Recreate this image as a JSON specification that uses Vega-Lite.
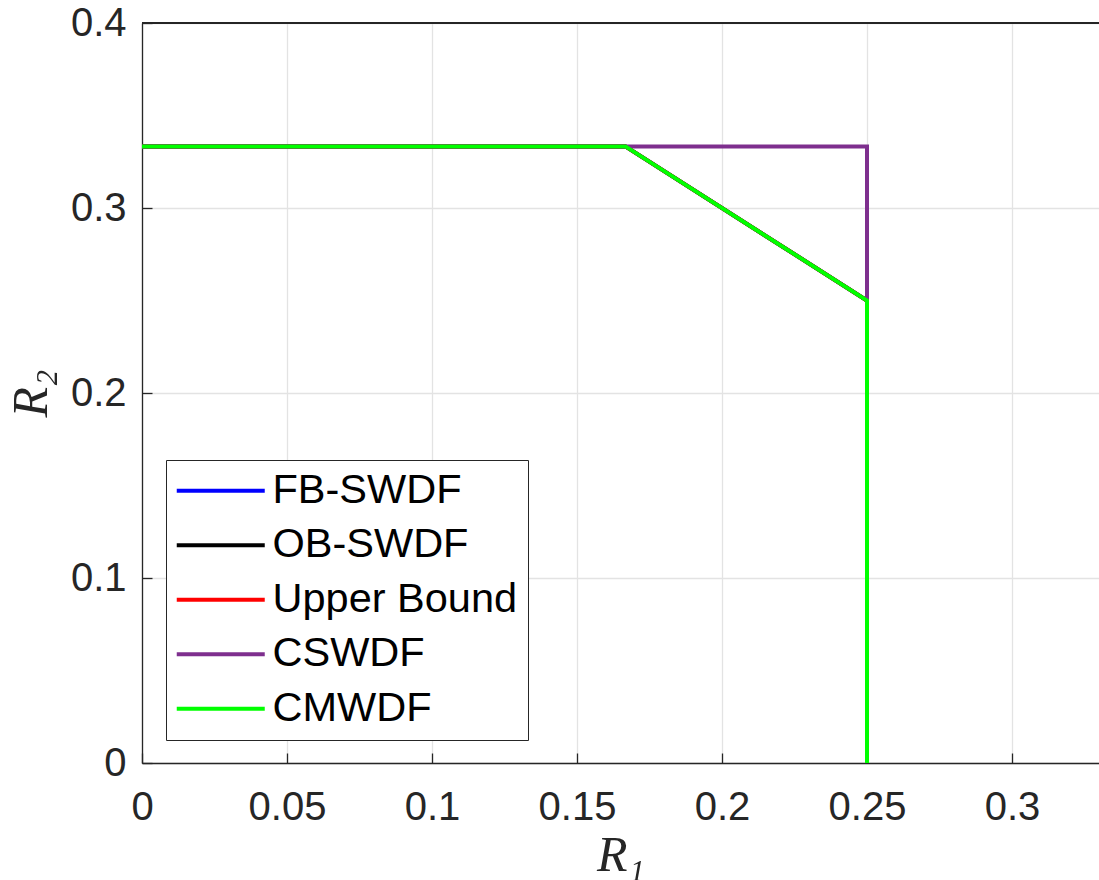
{
  "$schema": "https://vega.github.io/schema/vega-lite/v6.json",
  "autosize": "none",
  "padding": {"left": 142, "top": 23, "right": 0, "bottom": 117},
  "width": 957,
  "height": 740,
  "background": "white",
  "config": {
    "view": {"stroke": null},
    "font": "Liberation Sans"
  },
  "data": {
    "values": [
      {"series": "FB-SWDF", "i": 0, "x": 0, "y": 0.3333},
      {"series": "FB-SWDF", "i": 1, "x": 0.1667, "y": 0.3333},
      {"series": "FB-SWDF", "i": 2, "x": 0.25, "y": 0.25},
      {"series": "FB-SWDF", "i": 3, "x": 0.25, "y": 0},
      {"series": "OB-SWDF", "i": 0, "x": 0, "y": 0.3333},
      {"series": "OB-SWDF", "i": 1, "x": 0.1667, "y": 0.3333},
      {"series": "OB-SWDF", "i": 2, "x": 0.25, "y": 0.25},
      {"series": "OB-SWDF", "i": 3, "x": 0.25, "y": 0},
      {"series": "Upper Bound", "i": 0, "x": 0, "y": 0.3333},
      {"series": "Upper Bound", "i": 1, "x": 0.1667, "y": 0.3333},
      {"series": "Upper Bound", "i": 2, "x": 0.25, "y": 0.25},
      {"series": "Upper Bound", "i": 3, "x": 0.25, "y": 0},
      {"series": "CSWDF", "i": 0, "x": 0, "y": 0.3333},
      {"series": "CSWDF", "i": 1, "x": 0.25, "y": 0.3333},
      {"series": "CSWDF", "i": 2, "x": 0.25, "y": 0},
      {"series": "CMWDF", "i": 0, "x": 0, "y": 0.3333},
      {"series": "CMWDF", "i": 1, "x": 0.1667, "y": 0.3333},
      {"series": "CMWDF", "i": 2, "x": 0.25, "y": 0.25},
      {"series": "CMWDF", "i": 3, "x": 0.25, "y": 0}
    ]
  },
  "encoding": {
    "x": {
      "field": "x", "type": "quantitative",
      "scale": {"domain": [0, 0.33], "nice": false, "zero": false},
      "axis": {
        "title": "R₁",
        "titleFont": "Liberation Serif", "titleFontStyle": "italic", "titleFontWeight": "normal",
        "titleFontSize": 50, "titleColor": "#262626", "titlePadding": 3,
        "values": [0, 0.05, 0.1, 0.15, 0.2, 0.25, 0.3],
        "format": "~g",
        "labelFontSize": 40, "labelColor": "#262626", "labelPadding": 34,
        "labelFlush": false,
        "tickSize": -10, "tickColor": "#262626", "tickWidth": 1.3,
        "domainColor": "#262626", "domainWidth": 1.3,
        "grid": true, "gridColor": "#e3e3e3", "gridWidth": 1.3
      }
    },
    "y": {
      "field": "y", "type": "quantitative",
      "scale": {"domain": [0, 0.4], "nice": false, "zero": false},
      "axis": {
        "title": "R₂",
        "titleFont": "Liberation Serif", "titleFontStyle": "italic", "titleFontWeight": "normal",
        "titleFontSize": 50, "titleColor": "#262626", "titlePadding": 14,
        "values": [0, 0.1, 0.2, 0.3, 0.4],
        "format": "~g",
        "labelFontSize": 40, "labelColor": "#262626", "labelPadding": 26,
        "labelFlush": false,
        "tickSize": -10, "tickColor": "#262626", "tickWidth": 1.3,
        "domainColor": "#262626", "domainWidth": 1.3,
        "grid": true, "gridColor": "#e3e3e3", "gridWidth": 1.3
      }
    },
    "order": {"field": "i", "type": "quantitative"},
    "color": {
      "field": "series", "type": "nominal",
      "scale": {
        "domain": ["FB-SWDF", "OB-SWDF", "Upper Bound", "CSWDF", "CMWDF"],
        "range": ["#0000ff", "#000000", "#ff0000", "#7e2f8e", "#00ff00"]
      },
      "legend": {
        "title": null,
        "orient": "none", "legendX": 24, "legendY": 437,
        "symbolType": "M-2,0H6.8", "symbolSize": 400, "symbolStrokeWidth": 4,
        "labelFontSize": 41.5, "labelColor": "#000000", "labelOffset": 55,
        "labelLimit": 400,
        "strokeColor": "#262626", "fillColor": "#ffffff",
        "padding": 10, "rowPadding": 11.5
      }
    }
  },
  "layer": [
    {"transform": [{"filter": "datum.series === 'FB-SWDF'"}], "mark": {"type": "line", "strokeWidth": 4, "clip": true, "strokeJoin": "miter"}},
    {"transform": [{"filter": "datum.series === 'OB-SWDF'"}], "mark": {"type": "line", "strokeWidth": 4, "clip": true, "strokeJoin": "miter"}},
    {"transform": [{"filter": "datum.series === 'Upper Bound'"}], "mark": {"type": "line", "strokeWidth": 4, "clip": true, "strokeJoin": "miter"}},
    {"transform": [{"filter": "datum.series === 'CSWDF'"}], "mark": {"type": "line", "strokeWidth": 4, "clip": true, "strokeJoin": "miter"}},
    {"transform": [{"filter": "datum.series === 'CMWDF'"}], "mark": {"type": "line", "strokeWidth": 4, "clip": true, "strokeJoin": "miter"}},
    {"mark": {"type": "rule", "color": "#262626", "strokeWidth": 1.3}, "encoding": {"y": {"datum": 0.4}, "x": null, "color": null, "order": null}}
  ]
}
